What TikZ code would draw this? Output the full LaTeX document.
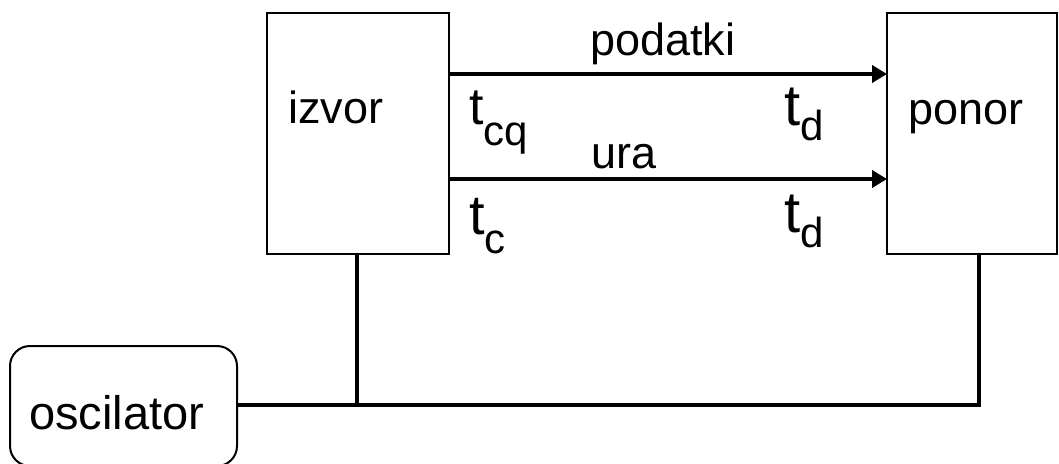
\documentclass[tikz,border=0pt]{standalone}
\usepackage{fontspec}
\setmainfont{Liberation Sans}
\usetikzlibrary{arrows.meta}
\newcommand\tsubx[3]{{\fontsize{#1}{60}\selectfont t}\raisebox{-#2pt}{\fontsize{42}{50}\selectfont #3}}
\begin{document}
\begin{tikzpicture}[x=1pt,y=-1pt,
  blk/.style={draw, line width=2pt, inner sep=0pt, outer sep=0pt, anchor=north west},
  wire/.style={line width=4pt},
  arr/.style={line width=4pt, -{Triangle[length=15pt,width=17pt]}},
  lbl/.style={font=\fontsize{45}{54}\selectfont, inner sep=0pt, anchor=base west},
]
\useasboundingbox (0,0) rectangle (1059,463);
\node[blk, minimum width=182pt, minimum height=241pt] (izvor) at (267,13) {};
\node[blk, minimum width=170pt, minimum height=241pt] (ponor) at (887,13) {};
\node[blk, rounded corners=20pt, minimum width=227pt, minimum height=120pt] (osc) at (10,346) {};

\node[lbl] (tizvor) at (288,123) {izvor};
\node[lbl] (tponor) at (908,124) {ponor};
\node[lbl, font=\fontsize{47}{56}\selectfont] (tosc) at (29,429) {oscilator};
\node[lbl] (tpod) at (590,55) {podatki};
\node[lbl] (tura) at (591,168) {ura};

\node[lbl] (tcq) at (469,124) {\tsubx{52}{21}{cq}};
\node[lbl] (tc) at (469,234) {\tsubx{56}{19}{c}};
\node[lbl] (td1) at (784,125) {\tsubx{58}{15}{d}};
\node[lbl] (td2) at (784,232) {\tsubx{58}{15}{d}};

\draw[arr] (izvor.east |- 0,74) -- (ponor.west |- 0,74);
\draw[arr] (izvor.east |- 0,179) -- (ponor.west |- 0,179);

\coordinate (j1) at (357,405);
\coordinate (j2) at (979,405);
\draw[wire] (osc.east |- j1) -- (j2) -- (j2 |- ponor.south);
\draw[wire] (j1 |- izvor.south) -- (j1);
\end{tikzpicture}
\end{document}
